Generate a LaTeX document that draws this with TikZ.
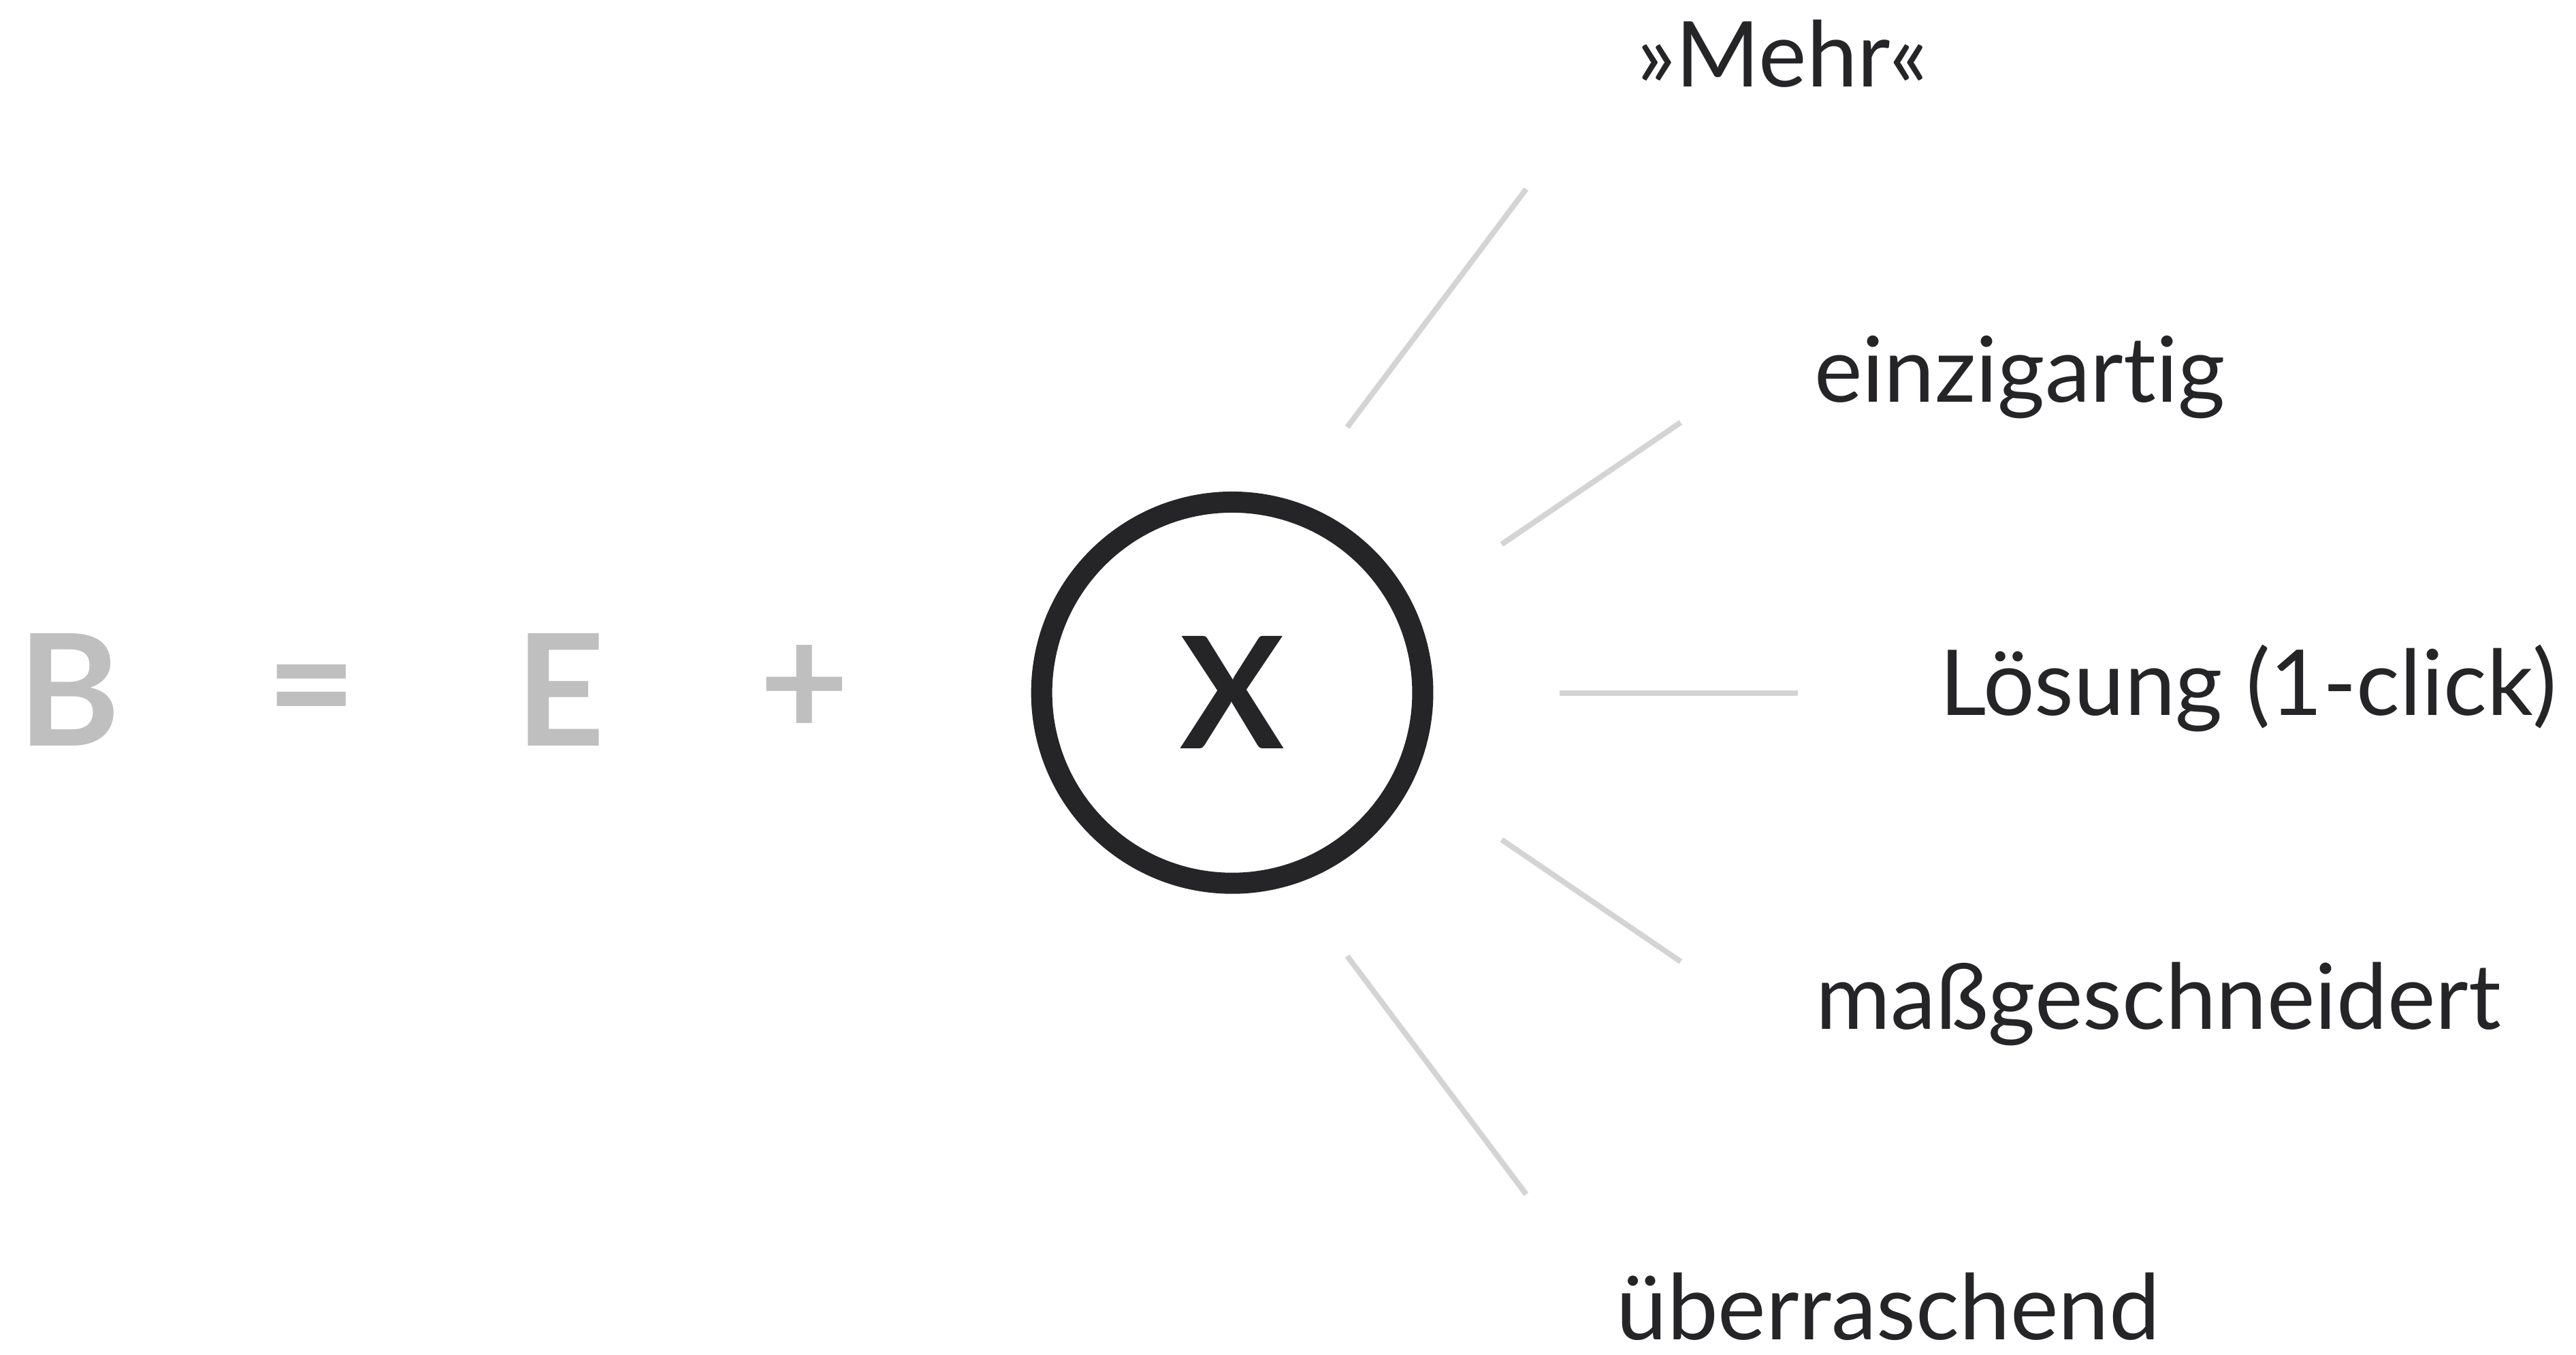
\documentclass[tikz,border=0pt]{standalone}
\usepackage{fontspec}
\setmainfont{Lato}[Ligatures=NoCommon]
\usepackage{tikz}
\usepackage{xcolor}
\definecolor{lightgrey}{HTML}{BEBFBE}
\definecolor{darkgrey}{HTML}{252528}
\definecolor{linegrey}{HTML}{D4D4D4}

\begin{document}
\begin{tikzpicture}[
  sym/.style={inner sep=0pt, text=lightgrey, font=\fontsize{65}{70}\selectfont\bfseries},
  word/.style={anchor=base west, inner sep=0pt, text=darkgrey, font=\fontsize{38}{46}\selectfont},
  ray/.style={linegrey, line width=2.3pt}
]
\draw[opacity=0] (0,0) rectangle (37.84,19.89);

\node[sym] (b) at (1.01,9.76) {B};
\node[sym] (eq) at (4.57,9.59) {=};
\node[sym] (e) at (8.23,9.76) {E};
\node[sym] (plus) at (11.81,9.75) {+};
\node[circle, draw=darkgrey, line width=0.31cm, minimum size=5.6cm, inner sep=0pt,
      text=darkgrey, font=\fontsize{65}{70}\selectfont\bfseries] (x) at (18.10,9.72) {X};

\coordinate (r1a) at (19.79,13.62); \coordinate (r1b) at (22.42,17.12);
\coordinate (r2a) at (22.06,11.90); \coordinate (r2b) at (24.69,13.69);
\coordinate (r3a) at (22.91,9.71);  \coordinate (r3b) at (26.41,9.71);
\coordinate (r4a) at (22.06,7.56);  \coordinate (r4b) at (24.69,5.77);
\coordinate (r5a) at (19.79,5.85);  \coordinate (r5b) at (22.42,2.35);
\draw[ray] (r1a) -- (r1b);
\draw[ray] (r2a) -- (r2b);
\draw[ray] (r3a) -- (r3b);
\draw[ray] (r4a) -- (r4b);
\draw[ray] (r5a) -- (r5b);

\node[word] (mehr) at (24.04,18.62) {»Mehr«};
\node[word] (einzig) at (26.65,13.99) {einzigartig};
\node[word] (loesung) at (28.49,9.39) {Lösung (1-click)};
\node[word] (mass) at (26.67,4.78) {maßgeschneidert};
\node[word] (ueber) at (23.74,0.21) {überraschend};

\end{tikzpicture}
\end{document}
